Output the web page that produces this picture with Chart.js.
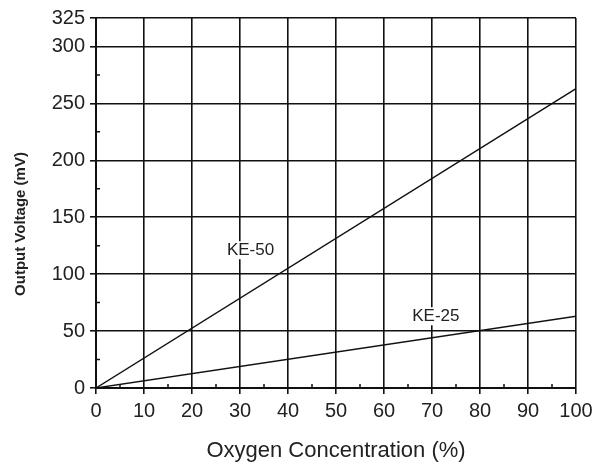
<!DOCTYPE html>
<html>
<head>
<meta charset="utf-8">
<script src="https://cdn.jsdelivr.net/npm/chart.js@4"></script>
<style>
  html, body { margin: 0; padding: 0; background: #fff; }
</style>
</head>
<body>
<canvas id="myChart" width="602" height="468"></canvas>
<script>
// values
const oxygen = [0, 100];
const ke50 = [0, 263];
const ke25 = [0, 63];

const xTicks = [0, 10, 20, 30, 40, 50, 60, 70, 80, 90, 100];
const yTicks = [0, 50, 100, 150, 200, 250, 300, 325];
const xMinor = [5, 15, 25, 35, 45, 55, 65, 75, 85, 95];
const yMinor = [25, 75, 125, 175, 225, 275];

const curveNames = ['KE-50', 'KE-25'];
const nameX = [32.2, 70.8];
const nameY = [121, 63];

const ink = '#111';
const font = 'Arial, "Liberation Sans", sans-serif';

// minor ticks, curve names with white boxes, y title
const extras = {
  id: 'extras',
  afterDatasetsDraw(chart) {
    const ctx = chart.ctx;
    const x = chart.scales.x, y = chart.scales.y;
    const x0 = x.getPixelForValue(0), y0 = y.getPixelForValue(0);
    ctx.save();
    ctx.strokeStyle = ink;
    ctx.lineWidth = 1.5;
    ctx.beginPath();
    xMinor.forEach(v => {
      const px = x.getPixelForValue(v);
      ctx.moveTo(px, y0); ctx.lineTo(px, y0 - 4);
    });
    yMinor.forEach(v => {
      const py = y.getPixelForValue(v);
      ctx.moveTo(x0, py); ctx.lineTo(x0 + 4, py);
    });
    ctx.stroke();

    ctx.font = '17px ' + font;
    ctx.textAlign = 'center';
    ctx.textBaseline = 'middle';
    curveNames.forEach((name, i) => {
      const px = x.getPixelForValue(nameX[i]);
      const py = y.getPixelForValue(nameY[i]);
      const w = ctx.measureText(name).width;
      ctx.fillStyle = '#fff';
      ctx.fillRect(px - w / 2 - 3, py - 9, w + 6, 18);
      ctx.fillStyle = '#222';
      ctx.fillText(name, px, py);
    });

    // y axis title
    ctx.translate(21, 224);
    ctx.rotate(-Math.PI / 2);
    ctx.font = 'bold 15px ' + font;
    ctx.fillStyle = '#222';
    ctx.fillText('Output Voltage (mV)', 0, 0);
    ctx.restore();
  }
};

const ctx = document.getElementById('myChart');

new Chart(ctx, {
  type: 'line',
  data: {
    datasets: [
      {
        label: curveNames[0],
        data: oxygen.map((o, i) => ({ x: o, y: ke50[i] })),
        borderColor: ink,
        borderWidth: 1.4,
        pointRadius: 0
      },
      {
        label: curveNames[1],
        data: oxygen.map((o, i) => ({ x: o, y: ke25[i] })),
        borderColor: ink,
        borderWidth: 1.4,
        pointRadius: 0
      }
    ]
  },
  options: {
    responsive: false,
    animation: false,
    layout: { padding: { left: 0, top: 18, right: 26, bottom: 0 } },
    plugins: { legend: { display: false }, tooltip: { enabled: false } },
    scales: {
      x: {
        type: 'linear',
        min: 0,
        max: 100,
        afterBuildTicks: s => { s.ticks = xTicks.map(v => ({ value: v })); },
        afterFit: s => { s.height = 80; },
        grid: { color: ink, lineWidth: 1.6, tickLength: 6 },
        border: { color: ink, width: 2 },
        ticks: { color: '#222', font: { family: font, size: 20 }, padding: 5, maxRotation: 0 },
        title: {
          display: true,
          text: 'Oxygen Concentration (%)',
          color: '#222',
          font: { family: font, size: 22 },
          padding: { top: 12 }
        }
      },
      y: {
        min: 0,
        max: 325,
        afterBuildTicks: s => { s.ticks = yTicks.map(v => ({ value: v })); },
        afterFit: s => { s.width = 96; },
        grid: { color: ink, lineWidth: 1.6, tickLength: 6 },
        border: { color: ink, width: 2 },
        ticks: { color: '#222', font: { family: font, size: 20 }, padding: 5 }
      }
    }
  },
  plugins: [extras]
});
</script>
</body>
</html>
